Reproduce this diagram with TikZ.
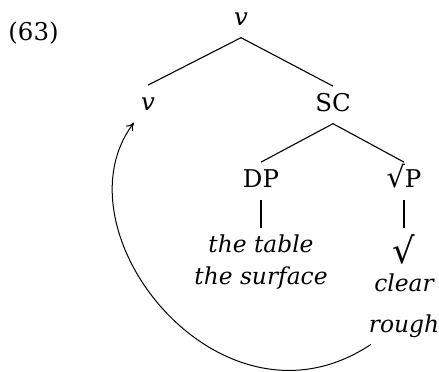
\documentclass[tikz,border=0pt]{standalone}
\usepackage{fontspec}
\setmainfont{DejaVu Serif}
\usetikzlibrary{arrows.meta, positioning, calc}

\begin{document}
\begin{tikzpicture}[x=0.45pt, y=-0.45pt,
  font=\fontsize{11}{13}\selectfont,
  cat/.style={inner sep=3pt, text height=8pt, text depth=2.5pt, anchor=base},
  leaf/.style={inner sep=3pt, align=center, anchor=north, font=\fontsize{10.5}{12.6}\selectfont\itshape},
  branch/.style={line width=0.5pt},
  move/.style={line width=0.45pt, -{To[length=3.5pt, width=4pt]}}]
  \useasboundingbox (0,0) rectangle (439,371);

  \node[anchor=base west, inner sep=0pt] (ex) at (8,40) {(63)};

  % tree
  \node[cat] (vp) at (241,25) {\textit{v}};
  \node[cat] (vl) at (148,110) {\textit{v}};
  \node[cat] (sc) at (333,111) {SC};
  \node[cat] (dp) at (261,187) {DP};
  \node[cat] (rp) at (404,187) {{\fontsize{13}{13}\selectfont √}P};
  \node[leaf] (tbl) at (261,228) {the table\\[1.5pt]the surface};
  \node[leaf] (root) at (404,228) {{\upshape\fontsize{16}{16}\selectfont √}\\[0pt]clear\\[5.5pt]rough};

  \draw[branch] (vp.south) -- (vl.north);
  \draw[branch] (vp.south) -- (sc.north);
  \draw[branch] (sc.south) -- (dp.north);
  \draw[branch] (sc.south) -- (rp.north);
  \draw[branch] (dp.south) -- (tbl.north);
  \draw[branch] (rp.south) -- (root.north);

  % head movement
  \draw[move] ($(root.south west)+(9,0)$) .. controls +(-150,100) and +(-82,108) .. (vl.south west);
\end{tikzpicture}
\end{document}
